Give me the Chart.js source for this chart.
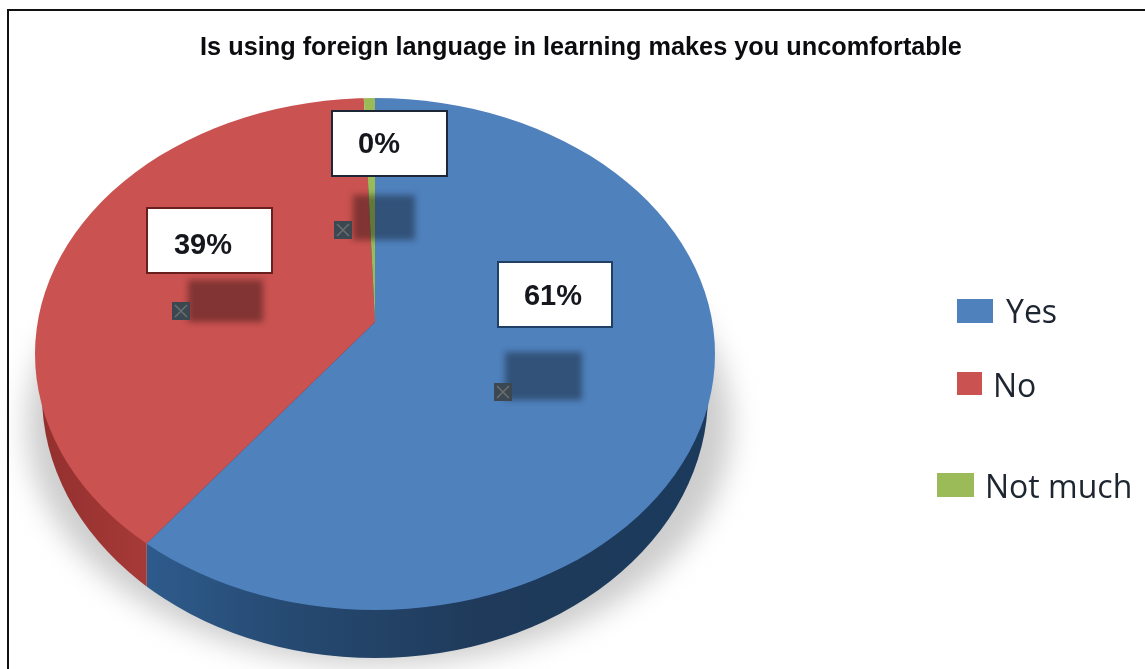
<!DOCTYPE html>
<html>
<head>
<meta charset="utf-8">
<title>Foreign language pie</title>
<script src="https://cdn.jsdelivr.net/npm/chart.js@4/dist/chart.umd.min.js"></script>
<style>
  html, body { margin: 0; background: #fff; }
  canvas { display: block; }
</style>
</head>
<body>
<canvas id="myChart" width="1145" height="669"></canvas>
<script>
const chartTitle = 'Is using foreign language in learning makes you uncomfortable';
const categories = ['Yes', 'No', 'Not much'];
const sliceValues = [60.5, 38.9, 0.6];
const shownPercents = ['61%', '39%', '0%'];
const sliceColors = ['#4f81bd', '#ca5250', '#9bbb59'];

// the picture is a tilted 3d pie: the wedge tip sits above the middle of the ellipse
const top3d = { x: 375, y: 354, rx: 340, ry: 256 };
const base3d = { x: 375, y: 395, rx: 333, ry: 263 };
const tip = { x: 375, y: 322 };
const squash = top3d.ry / top3d.rx;
const wallStops = [
  [[0, '#2e5b8c'], [0.25, '#264a72'], [0.6, '#1f3a5a'], [1, '#1b3a5c']],
  [[0, '#93302e'], [1, '#a63a38']],
  [[0, '#76923c'], [1, '#76923c']]
];

const labelBoxes = [
  { x: 498, y: 262, w: 114, h: 65, border: '#1f3f66', textX: 553, textY: 297, smudge: [505, 352, 77, 48], marker: [494, 383] },
  { x: 147, y: 208, w: 125, h: 65, border: '#6a1f1f', textX: 203, textY: 246, smudge: [188, 280, 75, 42], marker: [172, 302] },
  { x: 332, y: 111, w: 115, h: 65, border: '#1c2636', textX: 379, textY: 145, smudge: [353, 195, 62, 45], marker: [334, 221] }
];
const legendRows = [
  { swatch: [957, 299, 36, 24], textX: 1006, base: 323 },
  { swatch: [957, 372, 25, 23], textX: 993, base: 397 },
  { swatch: [937, 473, 37, 24], textX: 985, base: 498 }
];

// where a wedge edge leaves the top ellipse, on screen
function rimPoint(angle) {
  const dx = Math.cos(angle), dy = Math.sin(angle) * squash;
  const ox = tip.x - top3d.x, oy = tip.y - top3d.y;
  const a = dx * dx / (top3d.rx * top3d.rx) + dy * dy / (top3d.ry * top3d.ry);
  const b = 2 * (ox * dx / (top3d.rx * top3d.rx) + oy * dy / (top3d.ry * top3d.ry));
  const c = ox * ox / (top3d.rx * top3d.rx) + oy * oy / (top3d.ry * top3d.ry) - 1;
  const t = (-b + Math.sqrt(b * b - 4 * a * c)) / (2 * a);
  return { x: tip.x + dx * t, y: tip.y + dy * t };
}

const pie3d = {
  id: 'pie3d',
  beforeDraw(chart) {
    const ctx = chart.ctx;
    ctx.save();
    ctx.fillStyle = '#fff';
    ctx.fillRect(0, 0, chart.width, chart.height);

    // ground shadow
    ctx.filter = 'blur(14px)';
    ctx.fillStyle = '#cdcdcd';
    ctx.beginPath();
    ctx.ellipse(379, 425, 352, 240, 0, 0, Math.PI * 2);
    ctx.fill();
    ctx.filter = 'none';

    // page frame: left and top only, the rest is cropped away
    ctx.fillStyle = '#111';
    ctx.fillRect(7, 9, 2, chart.height);
    ctx.fillRect(7, 9, chart.width, 2);

    // side wall, cut at the rim where each wedge ends
    chart.getDatasetMeta(0).data.forEach((arc, i) => {
      const from = rimPoint(arc.startAngle), to = rimPoint(arc.endAngle);
      if (from.y < top3d.y && to.y < top3d.y) return;
      const left = to.y < top3d.y ? 0 : to.x;
      const right = from.y < top3d.y ? chart.width : from.x;
      const gx0 = Math.max(left, base3d.x - base3d.rx), gx1 = Math.min(right, base3d.x + base3d.rx);
      const grad = ctx.createLinearGradient(gx0, 0, gx1, 0);
      wallStops[i].forEach(s => grad.addColorStop(s[0], s[1]));
      ctx.save();
      ctx.beginPath();
      ctx.rect(left, 0, right - left, chart.height);
      ctx.clip();
      ctx.fillStyle = grad;
      ctx.beginPath();
      ctx.ellipse(base3d.x, base3d.y, base3d.rx, base3d.ry, 0, 0, Math.PI * 2);
      ctx.fill();
      ctx.restore();
    });
    ctx.restore();
  },
  beforeDatasetsDraw(chart) {
    const ctx = chart.ctx;
    const arc = chart.getDatasetMeta(0).data[0];
    ctx.save();
    ctx.beginPath();
    ctx.ellipse(top3d.x, top3d.y, top3d.rx, top3d.ry, 0, 0, Math.PI * 2);
    ctx.clip();
    ctx.translate(tip.x, tip.y);
    ctx.scale(1, squash);
    ctx.translate(-arc.x, -arc.y);
  },
  afterDatasetsDraw(chart) {
    const ctx = chart.ctx;
    ctx.restore();
    ctx.save();

    labelBoxes.forEach((box, i) => {
      // blurred dark patch under each label
      ctx.filter = 'blur(3px)';
      ctx.fillStyle = 'rgba(0,0,0,0.36)';
      ctx.fillRect(box.smudge[0], box.smudge[1], box.smudge[2], box.smudge[3]);
      ctx.filter = 'none';

      // little leader handle
      const mx = box.marker[0], my = box.marker[1];
      ctx.fillStyle = '#3b4751';
      ctx.fillRect(mx, my, 18, 18);
      ctx.strokeStyle = '#6b6f70';
      ctx.lineWidth = 1.5;
      ctx.beginPath();
      ctx.moveTo(mx + 3, my + 3); ctx.lineTo(mx + 15, my + 15);
      ctx.moveTo(mx + 15, my + 3); ctx.lineTo(mx + 3, my + 15);
      ctx.stroke();

      ctx.fillStyle = '#fff';
      ctx.fillRect(box.x, box.y, box.w, box.h);
      ctx.strokeStyle = box.border;
      ctx.lineWidth = 2;
      ctx.strokeRect(box.x, box.y, box.w, box.h);

      ctx.fillStyle = '#15171c';
      ctx.font = 'bold 29px "Liberation Sans", Arial, sans-serif';
      ctx.textAlign = 'center';
      ctx.textBaseline = 'middle';
      ctx.fillText(shownPercents[i], box.textX, box.textY);
    });

    // hand placed legend, the rows are not evenly spaced in the picture
    ctx.textAlign = 'left';
    ctx.textBaseline = 'alphabetic';
    ctx.font = '32px "Open Sans", sans-serif';
    legendRows.forEach((row, i) => {
      ctx.fillStyle = sliceColors[i];
      ctx.fillRect(row.swatch[0], row.swatch[1], row.swatch[2], row.swatch[3]);
      ctx.fillStyle = '#1d2530';
      ctx.fillText(categories[i], row.textX, row.base);
    });
    ctx.restore();
  }
};

const myChart = new Chart(document.getElementById('myChart'), {
  type: 'pie',
  data: {
    labels: categories,
    datasets: [{
      data: sliceValues,
      backgroundColor: sliceColors,
      borderWidth: 0,
      clip: false
    }]
  },
  options: {
    responsive: false,
    animation: false,
    radius: 420,
    layout: { padding: { left: 17 } },
    events: [],
    plugins: {
      legend: { display: false },
      tooltip: { enabled: false },
      title: {
        display: true,
        text: chartTitle,
        color: '#0c0c10',
        font: { family: '"Liberation Sans", Arial, sans-serif', size: 25.3, weight: 'bold' },
        padding: { top: 33, bottom: 10 }
      }
    }
  },
  plugins: [pie3d]
});
</script>
</body>
</html>
